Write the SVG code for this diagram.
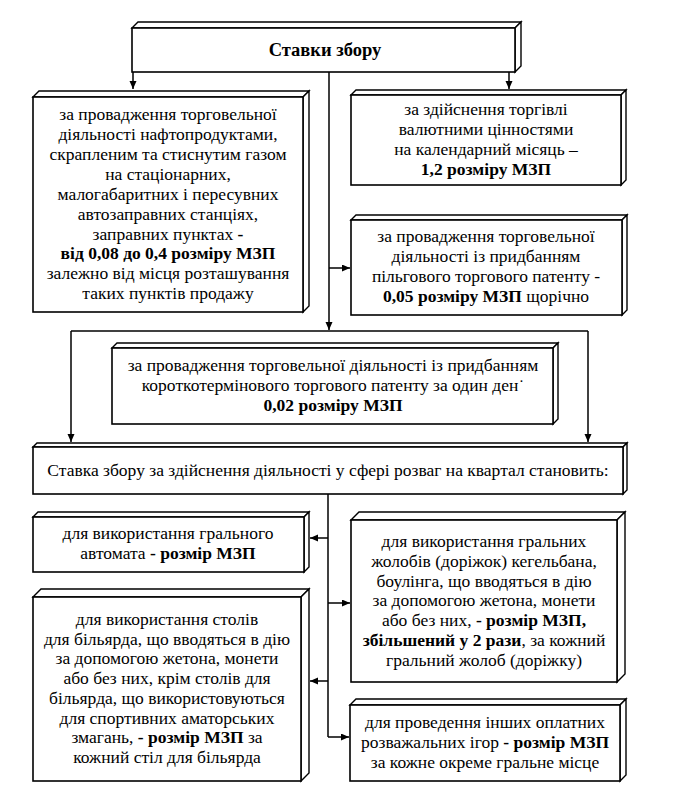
<svg xmlns="http://www.w3.org/2000/svg" width="700" height="797" viewBox="0 0 700 797">
<style>
.box{fill:#fff;stroke:#000;stroke-width:1.6;stroke-linejoin:miter}
.face{fill:#fff;stroke:#000;stroke-width:1.4;stroke-linejoin:miter}
.b{font-weight:bold}
.ttl{font-size:18.5px;font-weight:bold}
.c{fill:none;stroke:#000;stroke-width:1.5}
</style>
<defs>
<marker id="ah" markerUnits="userSpaceOnUse" markerWidth="9" markerHeight="8" refX="8" refY="3.5" orient="auto">
<path d="M0,0 L8,3.5 L0,7 z" fill="#000"/>
</marker>
</defs>
<rect width="700" height="797" fill="#fff"/>

<g id="connectors">
<path class="c" d="M133,72 V89" marker-end="url(#ah)"/>
<path class="c" d="M509,72 V89" marker-end="url(#ah)"/>
<path class="c" d="M329,72 V330" marker-end="url(#ah)"/>
<path class="c" d="M329,268 H350" marker-end="url(#ah)"/>
<path class="c" d="M71,331 H588"/>
<path class="c" d="M71,331 V442" marker-end="url(#ah)"/>
<path class="c" d="M588,331 V442" marker-end="url(#ah)"/>
<path class="c" d="M328,494 V737"/>
<path class="c" d="M328,538 H310" marker-end="url(#ah)"/>
<path class="c" d="M328,681 H310" marker-end="url(#ah)"/>
<path class="c" d="M328,603 H350" marker-end="url(#ah)"/>
<path class="c" d="M328,737 H349" marker-end="url(#ah)"/>
</g>

<g font-family="Liberation Serif, DejaVu Serif, serif" font-size="17.5" text-anchor="middle" fill="#000">
<g id="n-top">
<polygon class="face" points="132,28 138,22 521,22 515,28"/>
<polygon class="face" points="515,28 521,22 521,66 515,72"/>
<rect class="box" x="132" y="28" width="383" height="44"/>
<text class="ttl" x="325" y="56">Ставки збору</text>
</g>

<g id="n-fuel">
<polygon class="face" points="33,97 39,91 309,91 303,97"/>
<polygon class="face" points="303,97 309,91 309,306 303,312"/>
<rect class="box" x="33" y="97" width="270" height="215"/>
<text x="168" y="120">за провадження торговельної</text>
<text x="168" y="140">діяльності нафтопродуктами,</text>
<text x="168" y="160">скрапленим та стиснутим газом</text>
<text x="168" y="180">на стаціонарних,</text>
<text x="168" y="200">малогабаритних і пересувних</text>
<text x="168" y="220">автозаправних станціях,</text>
<text x="168" y="240">заправних пунктах <tspan class="b">-</tspan></text>
<text class="b" x="168" y="259">від 0,08 до 0,4 розміру МЗП</text>
<text x="168" y="279">залежно від місця розташування</text>
<text x="168" y="299">таких пунктів продажу</text>
</g>

<g id="n-currency">
<polygon class="face" points="351,95 356,90 626,90 621,95"/>
<polygon class="face" points="621,95 626,90 626,180 621,185"/>
<rect class="box" x="351" y="95" width="270" height="90"/>
<text x="486" y="115">за здійснення торгівлі</text>
<text x="486" y="135">валютними цінностями</text>
<text x="486" y="155">на календарний місяць –</text>
<text class="b" x="486" y="175">1,2 розміру МЗП</text>
</g>

<g id="n-preferential">
<polygon class="face" points="351,220 356,215 627,215 622,220"/>
<polygon class="face" points="622,220 627,215 627,310 622,315"/>
<rect class="box" x="351" y="220" width="271" height="95"/>
<text x="486" y="242">за провадження торговельної</text>
<text x="486" y="262">діяльності із придбанням</text>
<text x="486" y="282">пільгового торгового патенту -</text>
<text x="486" y="302"><tspan class="b">0,05 розміру МЗП</tspan> щорічно</text>
</g>

<g id="n-shortterm">
<polygon class="face" points="112,348 117,343 558,343 553,348"/>
<polygon class="face" points="553,348 558,343 558,419 553,424"/>
<rect class="box" x="112" y="348" width="441" height="76"/>
<text x="333" y="371">за провадження торговельної діяльності із придбанням</text>
<text x="333" y="391">короткотермінового торгового патенту за один ден˙</text>
<text class="b" x="333" y="411">0,02 розміру МЗП</text>
</g>

<g id="n-entertainment">
<polygon class="face" points="33,447 37,443 627,443 623,447"/>
<polygon class="face" points="623,447 627,443 627,490 623,494"/>
<rect class="box" x="33" y="447" width="590" height="47"/>
<text x="328" y="476">Ставка збору за здійснення діяльності у сфері розваг на квартал становить:</text>
</g>

<g id="n-slot">
<polygon class="face" points="33,517 38,512 309,512 304,517"/>
<polygon class="face" points="304,517 309,512 309,567 304,572"/>
<rect class="box" x="33" y="517" width="271" height="55"/>
<text x="168" y="539">для використання грального</text>
<text x="168" y="559">автомата <tspan class="b">- розмір МЗП</tspan></text>
</g>

<g id="n-billiards">
<polygon class="face" points="33,597 41,589 309,589 301,597"/>
<polygon class="face" points="301,597 309,589 309,773 301,781"/>
<rect class="box" x="33" y="597" width="268" height="184"/>
<text x="167" y="625">для використання столів</text>
<text x="167" y="645">для більярда, що вводяться в дію</text>
<text x="167" y="664">за допомогою жетона, монети</text>
<text x="167" y="684">або без них, крім столів для</text>
<text x="167" y="704">більярда, що використовуються</text>
<text x="167" y="724">для спортивних аматорських</text>
<text x="167" y="743">змагань, <tspan class="b">- розмір МЗП</tspan> за</text>
<text x="167" y="763">кожний стіл для більярда</text>
</g>

<g id="n-bowling">
<polygon class="face" points="351,520 359,512 625,512 617,520"/>
<polygon class="face" points="617,520 625,512 625,674 617,682"/>
<rect class="box" x="351" y="520" width="266" height="162"/>
<text x="484" y="547">для використання гральних</text>
<text x="484" y="567">жолобів (доріжок) кегельбана,</text>
<text x="484" y="587">боулінга, що вводяться в дію</text>
<text x="484" y="606">за допомогою жетона, монети</text>
<text x="484" y="626">або без них, <tspan class="b">- розмір МЗП,</tspan></text>
<text x="484" y="646"><tspan class="b">збільшений у 2 рази</tspan>, за кожний</text>
<text x="484" y="666">гральний жолоб (доріжку)</text>
</g>

<g id="n-other">
<polygon class="face" points="350,705 356,699 626,699 620,705"/>
<polygon class="face" points="620,705 626,699 626,775 620,781"/>
<rect class="box" x="350" y="705" width="270" height="76"/>
<text x="485" y="728">для проведення інших оплатних</text>
<text x="485" y="748">розважальних ігор <tspan class="b">- розмір МЗП</tspan></text>
<text x="485" y="768">за кожне окреме гральне місце</text>
</g>
</g>
</svg>
